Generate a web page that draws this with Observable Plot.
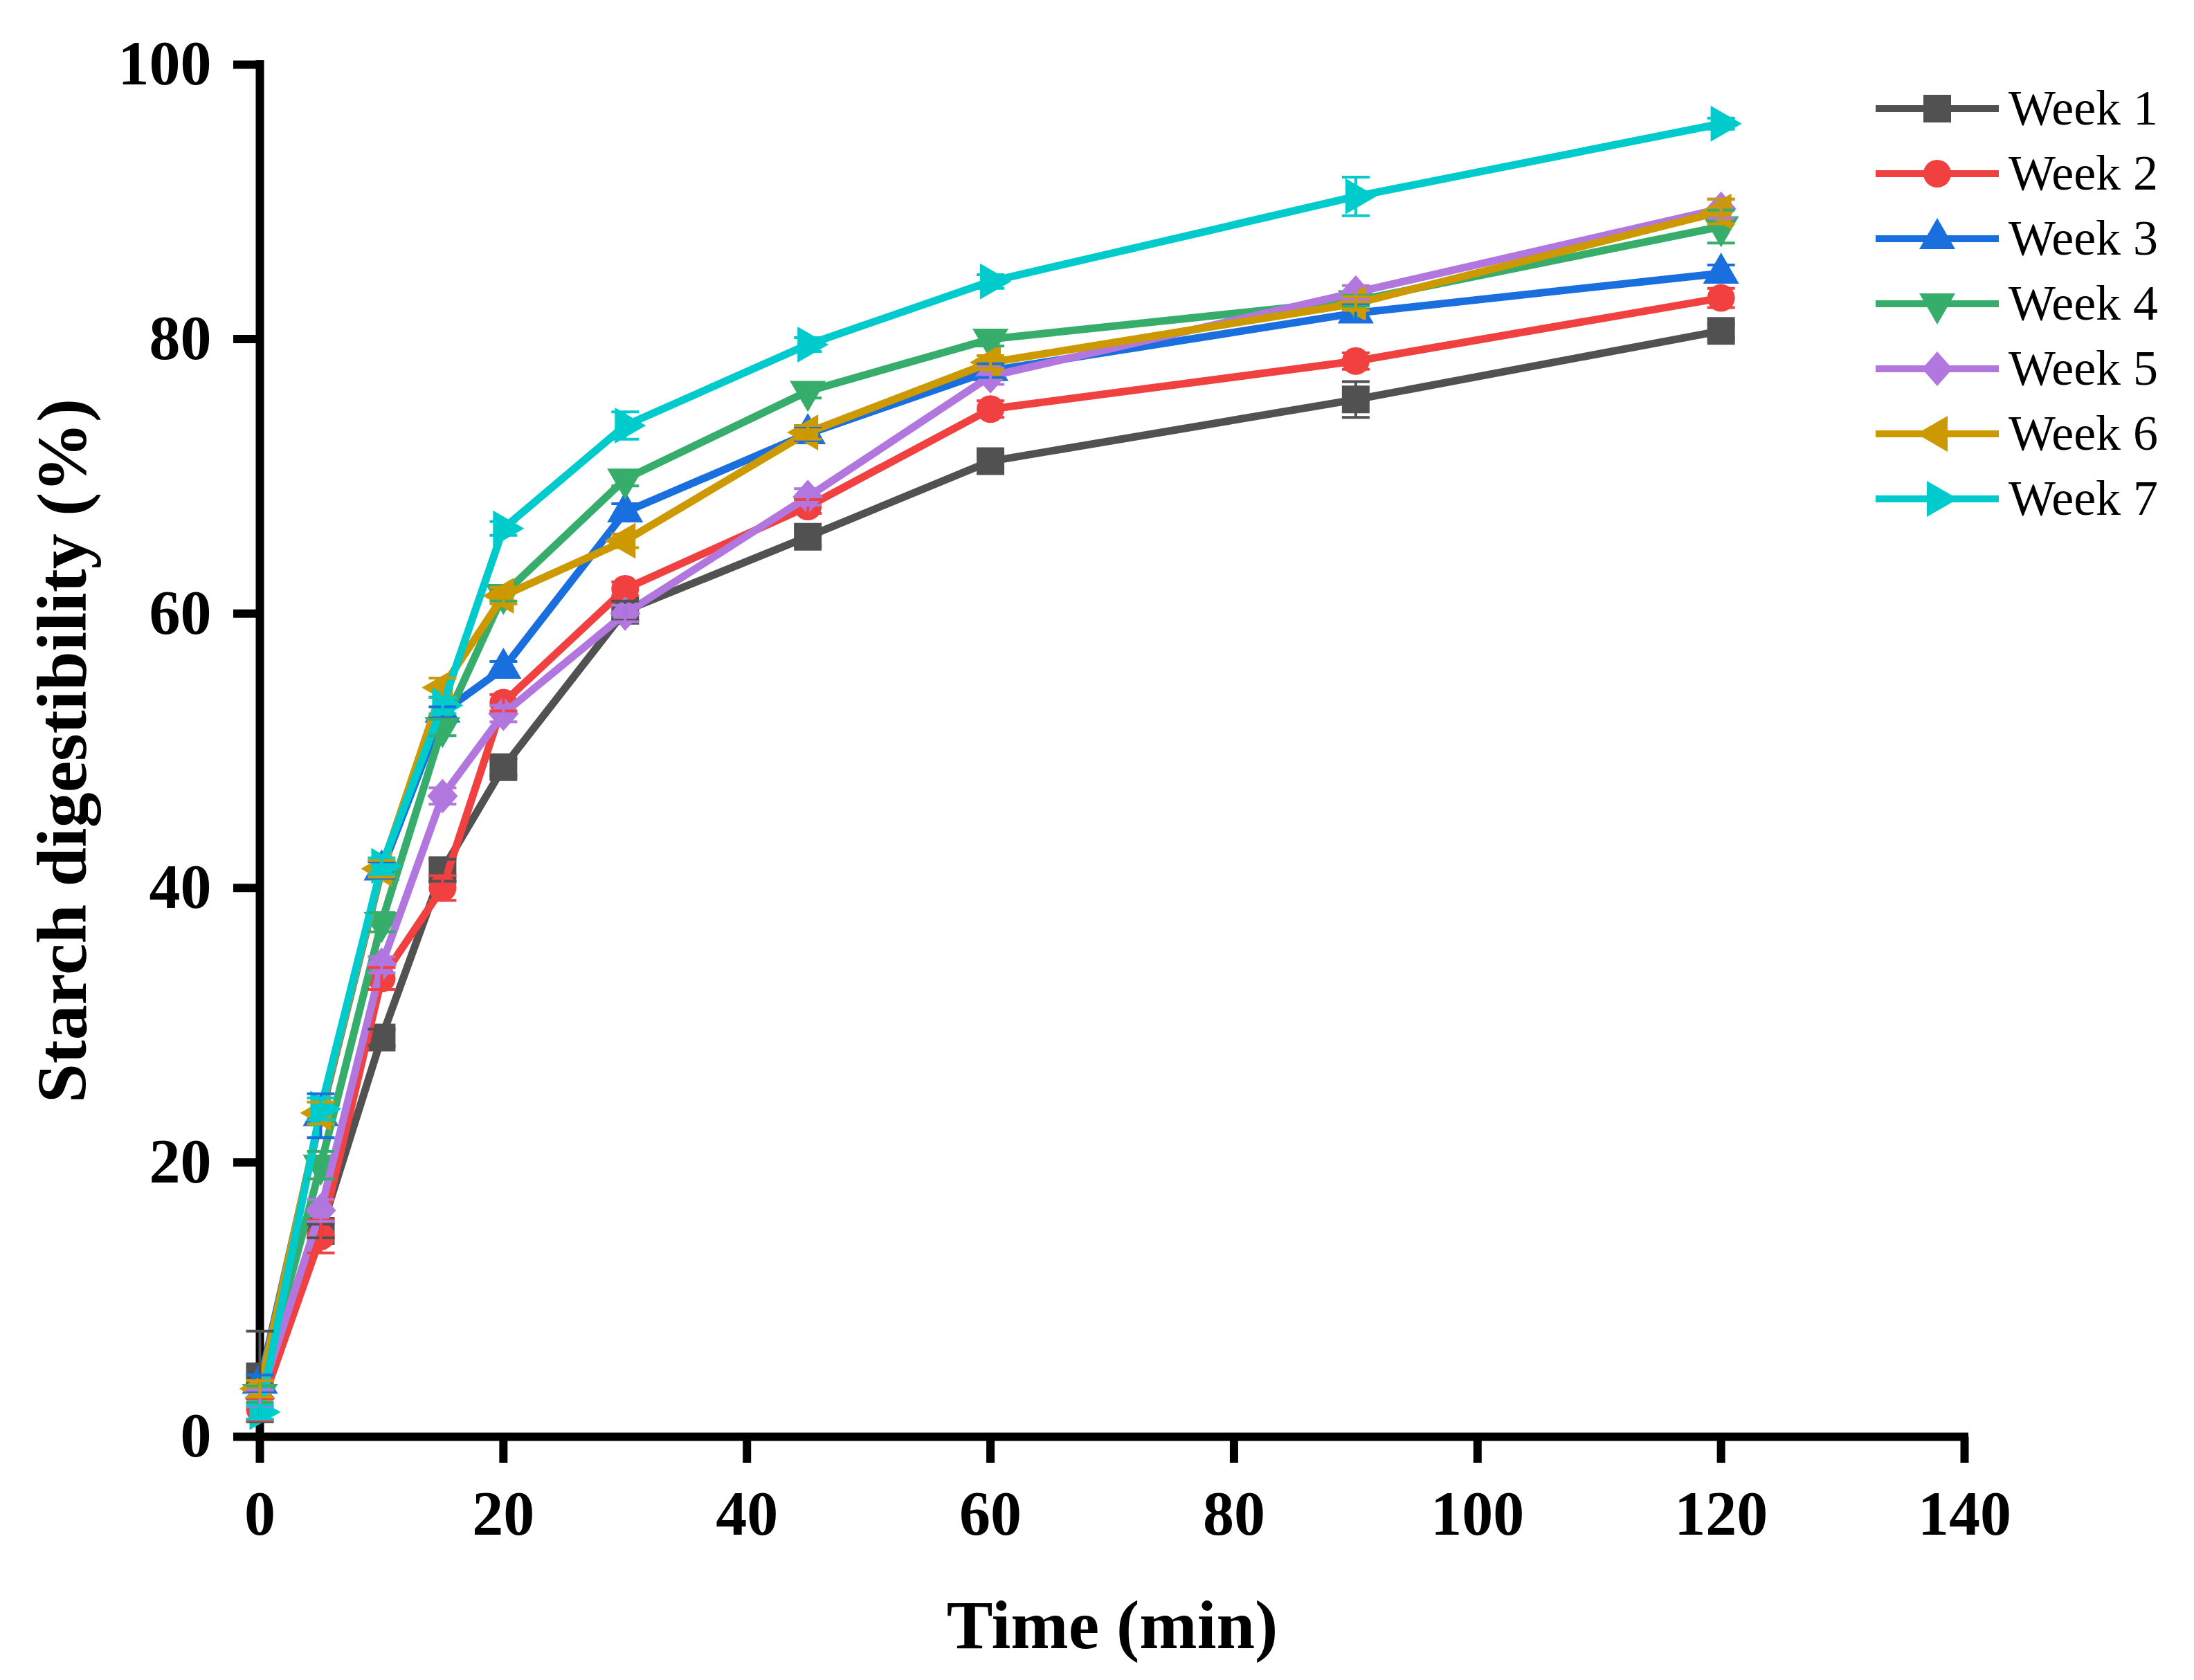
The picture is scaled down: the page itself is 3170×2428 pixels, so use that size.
<!DOCTYPE html>
<html>
<head>
<meta charset="utf-8">
<script src="https://cdn.jsdelivr.net/npm/d3@7"></script>
<script src="https://cdn.jsdelivr.net/npm/@observablehq/plot@0.6"></script>
<style>
  body { margin: 0; background: #fff; }
  #chart { position: relative; width: 3170px; height: 2428px; }
  #legend { position: absolute; left: 2700px; top: 100px; }
</style>
</head>
<body>
<div id="chart"></div>
<script>
// digestion time (min)
const times = [0, 5, 10, 15, 20, 30, 45, 60, 90, 120]
const weeks = ['Week 1', 'Week 2', 'Week 3', 'Week 4', 'Week 5', 'Week 6', 'Week 7']
const colors = ['#515151', '#F14040', '#1A6FDF', '#37AD6B', '#B177DE', '#CC9900', '#00CBCC']

// starch digestibility (%) per week
const week1 = [4.4, 15.0, 29.1, 41.3, 48.8, 60.2, 65.6, 71.1, 75.6, 80.6]
const week2 = [2.0, 14.6, 33.4, 40.0, 53.5, 61.8, 67.8, 74.9, 78.4, 83.0]
const week3 = [3.9, 23.4, 41.3, 52.8, 56.0, 67.4, 73.1, 77.7, 81.9, 84.8]
const week4 = [3.1, 19.8, 37.5, 51.7, 61.4, 69.8, 76.2, 80.0, 82.8, 88.2]
const week5 = [2.8, 16.5, 34.4, 46.7, 52.7, 60.0, 68.5, 77.3, 83.4, 89.5]
const week6 = [3.5, 23.6, 41.4, 54.6, 61.3, 65.3, 73.2, 78.3, 82.6, 89.3]
const week7 = [1.8, 23.9, 41.6, 53.3, 66.2, 73.7, 79.6, 84.2, 90.4, 95.7]

// standard deviations (error bars)
const week1Err = [3.3, 0.5, 0.6, 0.8, 0.6, 0.7, 0.6, 0.5, 1.3, 0.5]
const week2Err = [0.8, 1.2, 0.8, 0.9, 0.6, 0.5, 0.5, 0.6, 0.6, 0.7]
const week3Err = [0.6, 1.6, 0.6, 0.4, 0.5, 0.6, 0.5, 0.5, 0.6, 0.6]
const week4Err = [0.6, 1.0, 0.7, 0.6, 0.5, 0.5, 0.5, 0.5, 0.4, 1.2]
const week5Err = [0.6, 0.8, 0.6, 0.6, 0.6, 0.6, 0.6, 0.6, 0.5, 0.7]
const week6Err = [0.6, 0.8, 0.6, 0.7, 0.6, 0.5, 0.5, 0.5, 0.5, 0.9]
const week7Err = [0.5, 0.8, 0.6, 0.6, 0.5, 1.0, 0.5, 0.5, 1.4, 0.4]

const xTicks = [0, 20, 40, 60, 80, 100, 120, 140]
const yTicks = [0, 20, 40, 60, 80, 100]

const values = [week1, week2, week3, week4, week5, week6, week7]
const errors = [week1Err, week2Err, week3Err, week4Err, week5Err, week6Err, week7Err]

const rows = weeks.flatMap((week, i) => times.map((t, j) => ({
  week, time: t, value: values[i][j], err: errors[i][j]
})))

/* Simbolos estilo Origin (tamano = pi r^2) */
const poly = pts => ({
  draw(ctx, size) {
    const h = Math.sqrt(size / Math.PI)
    const p = pts(h)
    ctx.moveTo(p[0][0], p[0][1])
    p.slice(1).forEach(q => ctx.lineTo(q[0], q[1]))
    ctx.closePath()
  }
})
const symbols = [
  poly(h => [[-h, -h], [h, -h], [h, h], [-h, h]]),
  { draw(ctx, size) { const h = Math.sqrt(size / Math.PI); ctx.moveTo(h, 0); ctx.arc(0, 0, h, 0, 2 * Math.PI) } },
  poly(h => [[0, -1.5 * h], [1.3 * h, 0.75 * h], [-1.3 * h, 0.75 * h]]),
  poly(h => [[0, 1.5 * h], [1.3 * h, -0.75 * h], [-1.3 * h, -0.75 * h]]),
  poly(h => [[0, -1.25 * h], [1.1 * h, 0], [0, 1.25 * h], [-1.1 * h, 0]]),
  poly(h => [[-1.5 * h, 0], [0.75 * h, -1.3 * h], [0.75 * h, 1.3 * h]]),
  poly(h => [[1.5 * h, 0], [-0.75 * h, -1.3 * h], [-0.75 * h, 1.3 * h]]),
]
const cap = { draw(ctx, size) { const h = Math.sqrt(size / Math.PI); ctx.moveTo(-h, 0); ctx.lineTo(h, 0) } }

const R = 20
const font = "'Liberation Serif', 'Times New Roman', serif"

const seriesMarks = weeks.flatMap((week, i) => {
  const d = rows.filter(r => r.week === week)
  return [
    Plot.line(d, { x: 'time', y: 'value', stroke: colors[i], strokeWidth: 11, strokeLinejoin: 'miter' }),
    Plot.dot(d, { x: 'time', y: 'value', symbol: symbols[i], r: R, fill: colors[i], stroke: 'none' }),
  ]
})

const errorMarks = weeks.flatMap((week, i) => {
  const d = rows.filter(r => r.week === week)
  return [
    Plot.ruleX(d, { x: 'time', y1: r => r.value - r.err, y2: r => r.value + r.err, stroke: colors[i], strokeWidth: 4 }),
    Plot.dot(d, { x: 'time', y: r => r.value - r.err, symbol: cap, r: R, fill: 'none', stroke: colors[i], strokeWidth: 4 }),
    Plot.dot(d, { x: 'time', y: r => r.value + r.err, symbol: cap, r: R, fill: 'none', stroke: colors[i], strokeWidth: 4 }),
  ]
})

const chart = Plot.plot({
  width: 3170,
  height: 2428,
  marginLeft: 375,
  marginRight: 332,
  marginTop: 93,
  marginBottom: 352,
  style: { fontFamily: font, background: '#fff', color: '#000' },
  x: { domain: [0, 140] },
  y: { domain: [0, 100] },
  marks: [
    Plot.axisX({ ticks: xTicks, tickSize: 38, tickPadding: 40, fontSize: 90, fontWeight: 'bold', strokeWidth: 12, label: null }),
    Plot.axisY({ ticks: yTicks, tickSize: 38, tickPadding: 32, fontSize: 90, fontWeight: 'bold', strokeWidth: 12, label: null }),
    Plot.ruleY([0], { strokeWidth: 12, strokeLinecap: 'square' }),
    Plot.ruleX([0], { strokeWidth: 12, strokeLinecap: 'square' }),
    ...seriesMarks,
    ...errorMarks,
    Plot.text(['Time (min)'], { frameAnchor: 'bottom', dy: 305, lineAnchor: 'bottom', fontSize: 100, fontWeight: 'bold', fill: '#000' }),
    Plot.text(['Starch digestibility (%)'], { frameAnchor: 'left', dx: -252, rotate: -90, textAnchor: 'middle', lineAnchor: 'bottom', fontSize: 102, fontWeight: 'bold', fill: '#000' }),
  ],
})

d3.select('#chart').append(() => chart)

/* Leyenda */
const legend = d3.select('#chart').append('svg')
  .attr('id', 'legend')
  .attr('width', 470)
  .attr('height', 700)
  .style('font-family', font)

weeks.forEach((week, i) => {
  const y = 57 + i * 94
  const g = legend.append('g')
  g.append('line').attr('x1', 10).attr('x2', 188).attr('y1', y).attr('y2', y)
    .attr('stroke', colors[i]).attr('stroke-width', 10)
  const p = d3.path()
  symbols[i].draw(p, Math.PI * R * R)
  g.append('path').attr('d', p.toString()).attr('transform', `translate(99,${y})`).attr('fill', colors[i])
  g.append('text').attr('x', 202).attr('y', y + 23).attr('font-size', 72).text(week)
})
</script>
</body>
</html>
